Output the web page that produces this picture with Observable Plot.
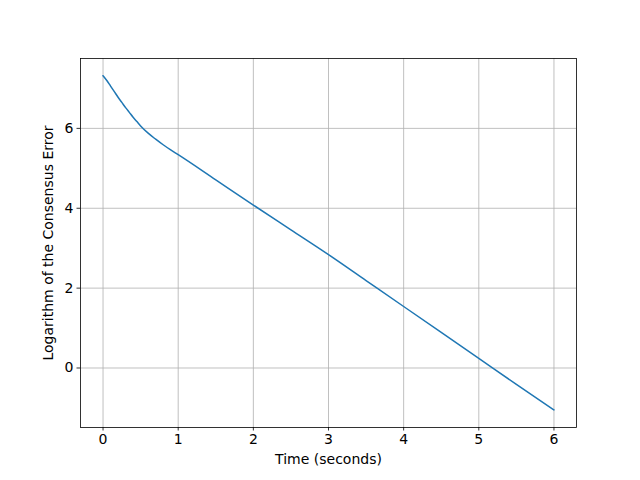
<!DOCTYPE html>
<html>
<head>
<meta charset="utf-8">
<script src="https://cdn.jsdelivr.net/npm/d3@7"></script>
<script src="https://cdn.jsdelivr.net/npm/@observablehq/plot@0.6"></script>
<style>
  html, body { margin: 0; padding: 0; background: #fff; }
  svg { display: block; }
</style>
</head>
<body>
<div id="chart"></div>
<script>
const time = [0, 0.05, 0.1, 0.15, 0.2, 0.25, 0.3, 0.35, 0.4, 0.45, 0.5, 0.6, 0.7, 0.8, 0.9, 1.0, 1.5, 2, 2.5, 3, 3.5, 4, 4.5, 5, 5.5, 6];
const logError = [7.32, 7.20, 7.06, 6.92, 6.78, 6.65, 6.52, 6.40, 6.28, 6.17, 6.06, 5.88, 5.73, 5.59, 5.46, 5.34, 4.71, 4.08, 3.46, 2.84, 2.19, 1.54, 0.89, 0.24, -0.41, -1.05];
const xTicks = [0, 1, 2, 3, 4, 5, 6];
const yTicks = [0, 2, 4, 6];
const xLabel = "Time (seconds)";
const yLabel = "Logarithm of the Consensus Error";

const data = time.map((t, i) => ({t, v: logError[i]}));
const font = "DejaVu Sans, sans-serif";

const chart = Plot.plot({
  width: 640,
  height: 480,
  marginLeft: 80,
  marginRight: 64,
  marginTop: 58,
  marginBottom: 53,
  style: {fontFamily: font, fontSize: "14px", color: "black", background: "white"},
  x: {domain: [-0.3, 6.3]},
  y: {domain: [-1.49, 7.75]},
  marks: [
    Plot.gridX(xTicks, {stroke: "#b0b0b0", strokeOpacity: 1, strokeWidth: 0.8}),
    Plot.gridY(yTicks, {stroke: "#b0b0b0", strokeOpacity: 1, strokeWidth: 0.8}),
    Plot.line(data, {x: "t", y: "v", stroke: "#1f77b4", strokeWidth: 1.5, curve: "monotone-x"}),
    Plot.frame({stroke: "black", strokeWidth: 0.8}),
    Plot.axisX(xTicks, {tickSize: 3.5, tickPadding: 3.5, label: null, fontSize: 14, stroke: "black", strokeWidth: 0.8}),
    Plot.axisY(yTicks, {tickSize: 3.5, tickPadding: 3.5, label: null, fontSize: 14, stroke: "black", strokeWidth: 0.8}),
    Plot.text([xLabel], {frameAnchor: "bottom", dy: 36, text: d => d, fontSize: 14, fill: "black"}),
    Plot.text([yLabel], {frameAnchor: "left", dx: -32, rotate: -90, textAnchor: "middle", text: d => d, fontSize: 14, fill: "black"})
  ]
});
document.getElementById("chart").appendChild(chart);
</script>
</body>
</html>
